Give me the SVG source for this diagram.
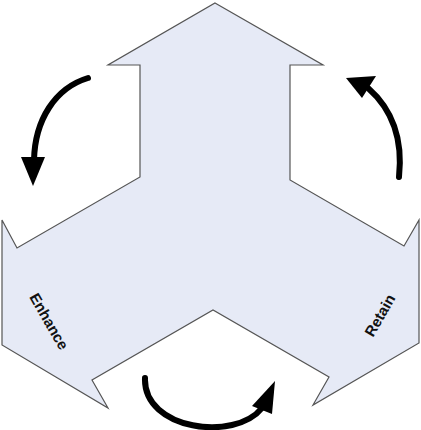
<svg xmlns="http://www.w3.org/2000/svg" width="421" height="430" viewBox="0 0 421 430">
<style>
.shape{fill:#E6EAF6;stroke:#555555;stroke-width:1.2;stroke-linejoin:miter}
.lbl{font-family:"Liberation Sans",Arial,sans-serif;font-weight:bold;font-size:15px;fill:#111111}
.curve{fill:none;stroke:#000000;stroke-width:6;stroke-linecap:round}
.head{fill:#000000}
</style>
<rect width="421" height="430" fill="#ffffff"/>
<g id="node-shape">
<polygon class="shape" points="215,3 323,65 290,65 290,180 404,246 419,220 419,343 313,405 329,377 213,310 92,380 108,408 2,345 2,220 17,248 140,177 140,65 108,65"/>
</g>
<g id="node-enhance">
<text class="lbl" x="48" y="322" text-anchor="middle" dominant-baseline="middle" transform="rotate(60 48 322)">Enhance</text>
</g>
<g id="node-retain">
<text class="lbl" x="381" y="316" text-anchor="middle" dominant-baseline="middle" transform="rotate(-60 381 316)">Retain</text>
</g>
<g id="connectors">
<path class="curve" d="M88,78 C55,88 35,120 34,160"/>
<polygon class="head" points="21,157 45,157 33,186"/>
<path class="curve" d="M399,177 C403,140 393,110 368,88"/>
<polygon class="head" points="346,78 376,76 362,98"/>
<path class="curve" d="M145,378 C143,430 235,442 262,408"/>
<polygon class="head" points="275,381 252,406 272,414"/>
</g>
</svg>
